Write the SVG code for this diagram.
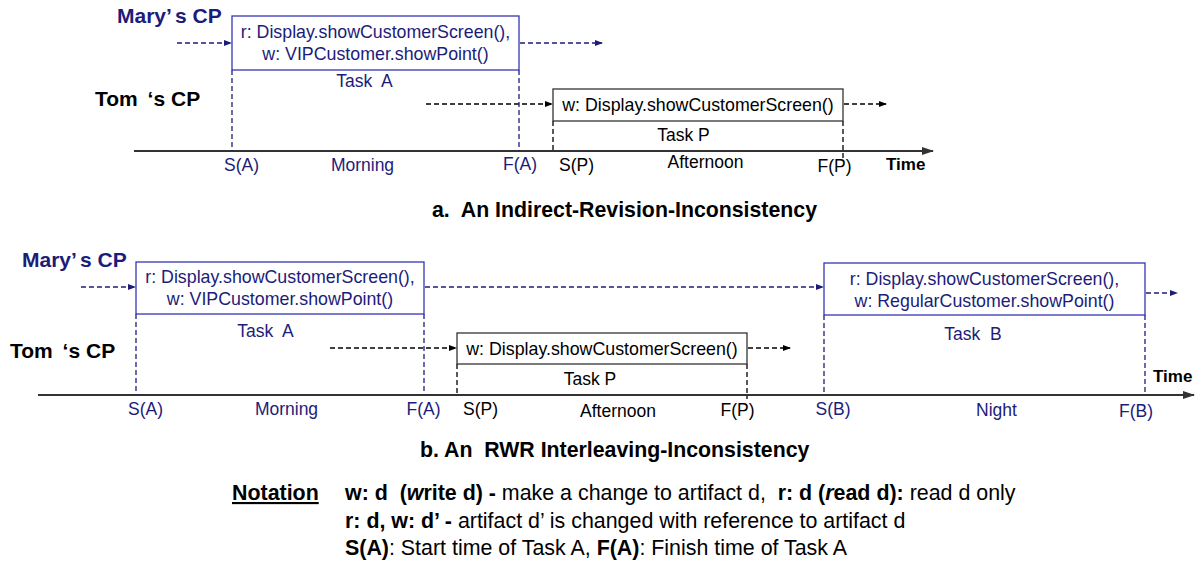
<svg xmlns="http://www.w3.org/2000/svg" width="1204" height="565" viewBox="0 0 1204 565">
<style>
text{font-family:"Liberation Sans",Arial,sans-serif;}
.nv{fill:#1c1c7a;}
.bk{fill:#000;}
.lbl{font-size:17.5px;}
.bx{font-size:17.8px;}
.hd{font-size:21px;font-weight:bold;}
.cap{font-size:21.3px;font-weight:bold;fill:#000;}
.time{font-size:17px;font-weight:bold;fill:#000;}
.note{font-size:21.4px;fill:#000;}
.b{font-weight:bold;}
.bi{font-weight:bold;font-style:italic;}
.boxb{fill:#fff;stroke:#3535b5;stroke-width:1.3;}
.boxk{fill:#fff;stroke:#333;stroke-width:1.3;}
.dn{stroke:#1c1c7a;stroke-width:1.3;stroke-dasharray:5,3;fill:none;}
.dk{stroke:#000;stroke-width:1.3;stroke-dasharray:5,3;fill:none;}
.axis{stroke:#333;stroke-width:2;fill:none;}
</style>
<defs>
<marker id="an" markerWidth="8" markerHeight="6" refX="7" refY="3" orient="auto" markerUnits="userSpaceOnUse"><path d="M0,0 L8,3 L0,6 z" fill="#1c1c7a"/></marker>
<marker id="ak" markerWidth="8" markerHeight="6" refX="7" refY="3" orient="auto" markerUnits="userSpaceOnUse"><path d="M0,0 L8,3 L0,6 z" fill="#000"/></marker>
<marker id="ax" markerWidth="12" markerHeight="8" refX="11" refY="4" orient="auto" markerUnits="userSpaceOnUse"><path d="M0,0 L12,4 L0,8 z" fill="#333"/></marker>
</defs>

<!-- ===== Diagram a ===== -->
<g id="connectors-a">
<line class="axis" x1="134" y1="151" x2="933" y2="151" marker-end="url(#ax)"/>
<line class="dn" x1="177" y1="43" x2="231" y2="43" marker-end="url(#an)"/>
<line class="dn" x1="520" y1="43" x2="602" y2="43" marker-end="url(#an)"/>
<line class="dk" x1="426" y1="104" x2="552" y2="104" marker-end="url(#ak)"/>
<line class="dk" x1="844" y1="104" x2="886" y2="104" marker-end="url(#ak)"/>
<line class="dn" x1="232" y1="70" x2="232" y2="151"/>
<line class="dn" x1="519" y1="70" x2="519" y2="151"/>
<line class="dk" x1="553" y1="121" x2="553" y2="151"/>
<line class="dk" x1="843" y1="121" x2="843" y2="158"/>
</g>
<g id="a-mary-label"><text class="hd nv" x="117" y="23">Mary’<tspan dx="4">s CP</tspan></text></g>
<g id="a-tom-label"><text class="hd bk" x="95" y="106">Tom <tspan dx="4">‘</tspan>s CP</text></g>
<g id="a-taskA">
<rect class="boxb" x="232" y="16" width="287" height="54"/>
<text class="bx nv" x="375.5" y="38" text-anchor="middle">r: Display.showCustomerScreen(),</text>
<text class="bx nv" x="375.5" y="60" text-anchor="middle">w: VIPCustomer.showPoint()</text>
<text class="lbl nv" x="364.5" y="87" text-anchor="middle" xml:space="preserve">Task  A</text>
</g>
<g id="a-taskP">
<rect class="boxk" x="553" y="89" width="290" height="32"/>
<text class="bx bk" x="698" y="111" text-anchor="middle">w: Display.showCustomerScreen()</text>
<text class="lbl bk" x="683.5" y="141" text-anchor="middle">Task P</text>
</g>
<g id="a-labels">
<text class="lbl nv" x="241.5" y="171" text-anchor="middle">S(A)</text>
<text class="lbl nv" x="362.5" y="171" text-anchor="middle">Morning</text>
<text class="lbl nv" x="520" y="170" text-anchor="middle">F(A)</text>
<text class="lbl bk" x="576.5" y="171" text-anchor="middle">S(P)</text>
<text class="lbl bk" x="705.5" y="168" text-anchor="middle">Afternoon</text>
<text class="lbl bk" x="834.5" y="172" text-anchor="middle">F(P)</text>
<text class="time" x="886" y="170">Time</text>
</g>
<g id="a-caption"><text class="cap" x="432" y="217" xml:space="preserve">a.  An Indirect-Revision-Inconsistency</text></g>

<!-- ===== Diagram b ===== -->
<g id="connectors-b">
<line class="axis" x1="38" y1="395" x2="1194" y2="395" marker-end="url(#ax)"/>
<line class="dn" x1="81" y1="287" x2="135" y2="287" marker-end="url(#an)"/>
<line class="dn" x1="425" y1="287" x2="823" y2="287" marker-end="url(#an)"/>
<line class="dn" x1="1146" y1="293" x2="1177" y2="293" marker-end="url(#an)"/>
<line class="dk" x1="330" y1="348" x2="456" y2="348" marker-end="url(#ak)"/>
<line class="dk" x1="748" y1="348" x2="790" y2="348" marker-end="url(#ak)"/>
<line class="dn" x1="136" y1="314" x2="136" y2="395"/>
<line class="dn" x1="424" y1="314" x2="424" y2="395"/>
<line class="dk" x1="457" y1="364" x2="457" y2="395"/>
<line class="dk" x1="747" y1="364" x2="747" y2="399"/>
<line class="dn" x1="824" y1="315" x2="824" y2="395"/>
<line class="dn" x1="1145" y1="315" x2="1145" y2="395"/>
</g>
<g id="b-mary-label"><text class="hd nv" x="22" y="267">Mary’<tspan dx="4">s CP</tspan></text></g>
<g id="b-tom-label"><text class="hd bk" x="10" y="358">Tom <tspan dx="4">‘</tspan>s CP</text></g>
<g id="b-taskA">
<rect class="boxb" x="136" y="262" width="288" height="52"/>
<text class="bx nv" x="280" y="283" text-anchor="middle">r: Display.showCustomerScreen(),</text>
<text class="bx nv" x="280" y="305" text-anchor="middle">w: VIPCustomer.showPoint()</text>
<text class="lbl nv" x="265.5" y="337" text-anchor="middle" xml:space="preserve">Task  A</text>
</g>
<g id="b-taskP">
<rect class="boxk" x="457" y="333" width="290" height="31"/>
<text class="bx bk" x="602" y="355" text-anchor="middle">w: Display.showCustomerScreen()</text>
<text class="lbl bk" x="590" y="385" text-anchor="middle">Task P</text>
</g>
<g id="b-taskB">
<rect class="boxb" x="824" y="263" width="321" height="52"/>
<text class="bx nv" x="984.5" y="285" text-anchor="middle">r: Display.showCustomerScreen(),</text>
<text class="bx nv" x="984.5" y="307" text-anchor="middle">w: RegularCustomer.showPoint()</text>
<text class="lbl nv" x="973" y="340" text-anchor="middle" xml:space="preserve">Task  B</text>
</g>
<g id="b-labels">
<text class="lbl nv" x="145.5" y="415" text-anchor="middle">S(A)</text>
<text class="lbl nv" x="286.5" y="415" text-anchor="middle">Morning</text>
<text class="lbl nv" x="423.5" y="415" text-anchor="middle">F(A)</text>
<text class="lbl bk" x="480.5" y="415" text-anchor="middle">S(P)</text>
<text class="lbl bk" x="618" y="417" text-anchor="middle">Afternoon</text>
<text class="lbl bk" x="737.5" y="416" text-anchor="middle">F(P)</text>
<text class="lbl nv" x="833" y="415" text-anchor="middle">S(B)</text>
<text class="lbl nv" x="996.5" y="416" text-anchor="middle">Night</text>
<text class="lbl nv" x="1136" y="417" text-anchor="middle">F(B)</text>
<text class="time" x="1153" y="382">Time</text>
</g>
<g id="b-caption"><text class="cap" x="420" y="457" xml:space="preserve">b. An  RWR Interleaving-Inconsistency</text></g>

<!-- ===== Notation ===== -->
<g id="notation">
<text class="note b" x="232" y="500" text-decoration="underline">Notation</text>
<text class="note" x="345" y="500" xml:space="preserve"><tspan class="b">w: d  (</tspan><tspan class="bi">w</tspan><tspan class="b">rite d) -</tspan> make a change to artifact d,  <tspan class="b">r: d (</tspan><tspan class="bi">r</tspan><tspan class="b">ead d):</tspan> read d only</text>
<text class="note" x="345" y="528" xml:space="preserve"><tspan class="b">r: d, w: d’ -</tspan> artifact d’ is changed with reference to artifact d</text>
<text class="note" x="345" y="555" xml:space="preserve"><tspan class="b">S(A)</tspan>: Start time of Task A, <tspan class="b">F(A)</tspan>: Finish time of Task A</text>
</g>
</svg>
